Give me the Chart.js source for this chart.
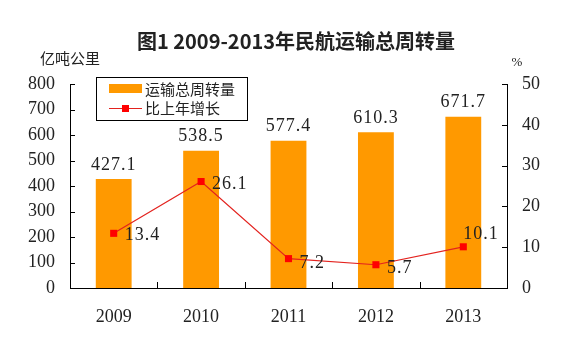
<!DOCTYPE html>
<html>
<head>
<meta charset="utf-8">
<script src="https://cdn.jsdelivr.net/npm/chart.js@4"></script>
<style>
  html, body { margin: 0; padding: 0; background: #fff; }
  #wrap { width: 570px; height: 352px; }
</style>
</head>
<body>
<div id="wrap"><canvas id="myChart" width="570" height="352"></canvas></div>
<script>
// data
const years = ['2009', '2010', '2011', '2012', '2013'];
const turnover = [427.1, 538.5, 577.4, 610.3, 671.7];   // 亿吨公里
const growth = [13.4, 26.1, 7.2, 5.7, 10.1];            // %
const leftTicks = [0, 100, 200, 300, 400, 500, 600, 700, 800];
const rightTicks = [0, 10, 20, 30, 40, 50];

const titleText = '图1 2009-2013年民航运输总周转量';
const leftUnit = '亿吨公里';
const rightUnit = '%';

// where the growth labels sit relative to their point [dx, dy]
const growthLabelShift = [[11, 2], [11, 3], [11, 5], [11, 4], [0, -13]];

const numFont = '18px "Liberation Serif", serif';
const cjkFont = '"Noto Sans CJK SC", sans-serif';
const textColor = '#222';

// title, units, legend box and value labels
const decorations = {
    id: 'decorations',
    afterDraw(chart) {
        const ctx = chart.ctx;
        ctx.save();
        ctx.fillStyle = textColor;
        ctx.textBaseline = 'middle';

        ctx.font = 'bold 20px ' + cjkFont;
        ctx.textAlign = 'center';
        ctx.fillText(titleText, 296, 41);

        ctx.font = '15px ' + cjkFont;
        ctx.textAlign = 'left';
        ctx.fillText(leftUnit, 40, 58);

        ctx.font = '13px "Liberation Serif", serif';
        ctx.textAlign = 'center';
        ctx.fillText(rightUnit, 517, 63);

        // bar values
        ctx.font = numFont;
        ctx.letterSpacing = '1px';
        const barMeta = chart.getDatasetMeta(1);
        barMeta.data.forEach((el, i) => {
            ctx.textAlign = 'center';
            ctx.fillText(turnover[i].toFixed(1), el.x, el.y - 14);
        });

        // growth values
        const lineMeta = chart.getDatasetMeta(0);
        lineMeta.data.forEach((el, i) => {
            const [dx, dy] = growthLabelShift[i];
            ctx.textAlign = 'left';
            ctx.fillText(growth[i].toFixed(1), el.x + dx, el.y + dy);
        });
        ctx.letterSpacing = '0px';

        // legend
        ctx.strokeStyle = '#000';
        ctx.lineWidth = 1;
        ctx.strokeRect(96.5, 77.5, 151, 43);
        ctx.fillStyle = '#FF9900';
        ctx.fillRect(109, 84, 33, 9);
        ctx.strokeStyle = '#E3221E';
        ctx.beginPath();
        ctx.moveTo(109, 108.5);
        ctx.lineTo(142, 108.5);
        ctx.stroke();
        ctx.fillStyle = '#FF0000';
        ctx.fillRect(122, 105, 7, 7);
        ctx.fillStyle = textColor;
        ctx.font = '15px ' + cjkFont;
        ctx.textAlign = 'left';
        ctx.fillText(chart.data.datasets[1].label, 145, 89);
        ctx.fillText(chart.data.datasets[0].label, 145, 108);

        // inward tick marks
        ctx.strokeStyle = '#000';
        ctx.beginPath();
        const area = chart.chartArea;
        const yl = chart.scales.y;
        leftTicks.forEach(v => {
            const py = Math.round(yl.getPixelForValue(v)) + 0.5;
            ctx.moveTo(area.left, py);
            ctx.lineTo(area.left + 5, py);
        });
        const yr = chart.scales.y1;
        rightTicks.forEach(v => {
            const py = Math.round(yr.getPixelForValue(v)) + 0.5;
            ctx.moveTo(area.right, py);
            ctx.lineTo(area.right - 5, py);
        });
        const xs = chart.scales.x;
        for (let i = 1; i < years.length; i++) {
            const px = Math.round((xs.getPixelForValue(i - 1) + xs.getPixelForValue(i)) / 2) + 0.5;
            ctx.moveTo(px, area.bottom);
            ctx.lineTo(px, area.bottom - 6);
        }
        ctx.stroke();
        ctx.restore();
    }
};

const ctx = document.getElementById('myChart');
new Chart(ctx, {
    type: 'bar',
    data: {
        labels: years,
        datasets: [{
            type: 'line',
            label: '比上年增长',
            data: growth,
            yAxisID: 'y1',
            borderColor: '#E3221E',
            borderWidth: 1.2,
            pointStyle: 'rect',
            pointRadius: 5,
            pointBackgroundColor: '#FF0000',
            pointBorderColor: '#FF0000',
            pointBorderWidth: 0,
            tension: 0,
            order: 0
        }, {
            label: '运输总周转量',
            data: turnover,
            yAxisID: 'y',
            backgroundColor: '#FF9900',
            categoryPercentage: 1,
            barPercentage: 0.41,
            order: 1
        }]
    },
    options: {
        responsive: false,
        animation: false,
        layout: { padding: { top: 84, left: 0, right: 0, bottom: 0 } },
        plugins: {
            legend: { display: false },
            title: { display: false },
            tooltip: { enabled: false }
        },
        scales: {
            x: {
                grid: { display: false, drawTicks: false },
                border: { display: true, color: '#000', width: 1 },
                ticks: { color: textColor, font: { family: '"Liberation Serif", serif', size: 18 }, padding: 18 },
                afterFit(scale) { scale.height = 64; }
            },
            y: {
                position: 'left',
                min: 0,
                max: 800,
                afterBuildTicks(scale) { scale.ticks = leftTicks.map(v => ({ value: v })); },
                grid: { display: false, drawTicks: false },
                border: { display: true, color: '#000', width: 1 },
                ticks: { color: textColor, font: { family: '"Liberation Serif", serif', size: 18 }, padding: 15 },
                afterFit(scale) { scale.width = 70; }
            },
            y1: {
                position: 'right',
                min: 0,
                max: 50,
                afterBuildTicks(scale) { scale.ticks = rightTicks.map(v => ({ value: v })); },
                grid: { display: false, drawTicks: false },
                border: { display: true, color: '#000', width: 1 },
                ticks: { color: textColor, font: { family: '"Liberation Serif", serif', size: 18 }, padding: 15 },
                afterFit(scale) { scale.width = 63; }
            }
        }
    },
    plugins: [decorations]
});
</script>
</body>
</html>
